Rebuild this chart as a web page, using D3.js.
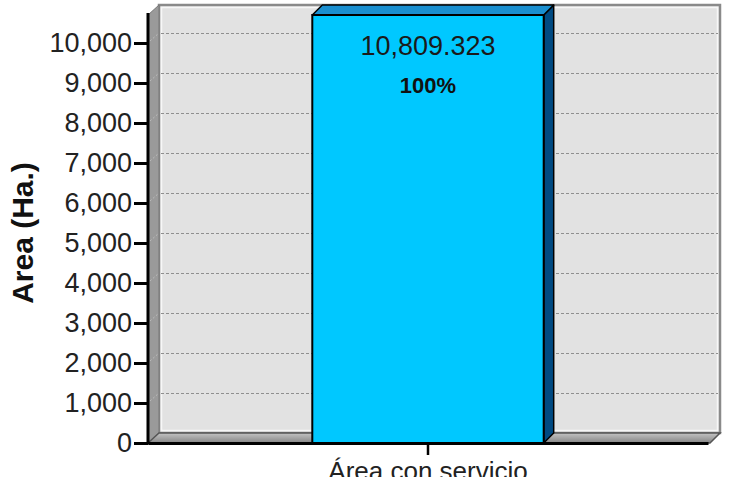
<!DOCTYPE html>
<html>
<head>
<meta charset="utf-8">
<script src="https://cdn.jsdelivr.net/npm/d3@7"></script>
<style>
html,body{margin:0;padding:0;background:#fff;}
svg{display:block;font-family:"Liberation Sans",Arial,sans-serif;}
</style>
</head>
<body>
<svg id="chart" width="742" height="477"></svg>
<script>
const categories = ["Área con servicio"];
const values = [10809.323];
const percentLabels = ["100%"];
const yTickValues = [0,1000,2000,3000,4000,5000,6000,7000,8000,9000,10000];
const yAxisTitle = "Area (Ha.)";

const svg = d3.select("#chart");
const DX = 11, DY = 10;
const x0 = 148, x1 = 708, yBase = 443, yTop = 15;

const y = d3.scaleLinear().domain([0, 10700]).range([yBase, yTop]).clamp(true);
const x = d3.scaleBand().domain(categories).range([x0, x1]).paddingInner(0).paddingOuter(0.71);

const defs = svg.append("defs");
const fg = defs.append("linearGradient").attr("id","floorGrad").attr("x1",0).attr("y1",0).attr("x2",0).attr("y2",1);
fg.append("stop").attr("offset","0%").attr("stop-color","#c4c4c4");
fg.append("stop").attr("offset","100%").attr("stop-color","#858585");

// back wall
const wx0 = x0 + DX, wx1 = x1 + DX + 1, wy0 = yTop - DY, wy1 = yBase - DY;
svg.append("rect").attr("x", wx0).attr("y", wy0).attr("width", wx1 - wx0).attr("height", wy1 - wy0)
  .attr("fill", "#e2e2e2").attr("stroke", "#8a8a8a").attr("stroke-width", 2.5);
svg.append("rect").attr("x", wx0 + 2.5).attr("y", wy0 + 2.5).attr("width", wx1 - wx0 - 5).attr("height", wy1 - wy0 - 5)
  .attr("fill", "none").attr("stroke", "#f7f7f7").attr("stroke-width", 1.5);

// side wall
svg.append("path")
  .attr("d", `M${x0},${yTop}L${wx0},${wy0}L${wx0},${wy1}L${x0},${yBase}Z`)
  .attr("fill", "#9a9a9a").attr("stroke", "#777").attr("stroke-width", 1);

// floor
svg.append("path")
  .attr("d", `M${x0},${yBase}L${wx0},${wy1}L${wx1},${wy1}L${x1+2},${yBase}Z`)
  .attr("fill", "url(#floorGrad)").attr("stroke", "#555").attr("stroke-width", 1.5);

// gridlines on back wall
svg.append("g").selectAll("line").data(yTickValues.filter(d => d > 0)).join("line")
  .attr("x1", wx0 + 2).attr("x2", wx1 - 2)
  .attr("y1", d => y(d) - DY + 0.5).attr("y2", d => y(d) - DY + 0.5)
  .attr("stroke", "#8f8f8f").attr("stroke-width", 1).attr("stroke-dasharray", "3,2");
// gridlines on side wall
svg.append("g").selectAll("line").data(yTickValues.filter(d => d > 0)).join("line")
  .attr("x1", x0 + 2).attr("x2", wx0)
  .attr("y1", d => y(d) - 2).attr("y2", d => y(d) - DY)
  .attr("stroke", "#bbb").attr("stroke-width", 1).attr("stroke-dasharray", "2,2");

// bars
const bars = svg.append("g").selectAll("g").data(values).join("g");
bars.each(function(v, i) {
  const g = d3.select(this);
  const bx0 = x(categories[i]), bx1 = bx0 + x.bandwidth();
  const by = y(v);
  // side
  g.append("path").attr("d", `M${bx1},${by}L${bx1+DX-1},${by-DY}L${bx1+DX-1},${yBase-DY}L${bx1},${yBase}Z`)
    .attr("fill", "#004a82").attr("stroke", "#000").attr("stroke-width", 1.5).attr("stroke-linejoin","round");
  // top
  g.append("path").attr("d", `M${bx0},${by}L${bx0+DX-1},${by-DY}L${bx1+DX-1},${by-DY}L${bx1},${by}Z`)
    .attr("fill", "#1a8fd0").attr("stroke", "#000").attr("stroke-width", 1.5).attr("stroke-linejoin","round");
  // front
  g.append("rect").attr("x", bx0).attr("y", by).attr("width", bx1 - bx0).attr("height", yBase - by)
    .attr("fill", "#00c8ff").attr("stroke", "#000").attr("stroke-width", 2);
  const cx = (bx0 + bx1) / 2;
  g.append("text").attr("x", cx).attr("y", by + 40).attr("text-anchor", "middle")
    .attr("font-size", 27).attr("fill", "#1a1a1a").text(d3.format(",.3f")(v));
  g.append("text").attr("x", cx).attr("y", by + 78).attr("text-anchor", "middle")
    .attr("font-size", 22).attr("font-weight", "bold").attr("fill", "#111").text(percentLabels[i]);
});

// y axis
const yAxis = svg.append("g").attr("transform", `translate(${x0},0)`)
  .call(d3.axisLeft(y).tickValues(yTickValues).tickFormat(d3.format(",")).tickSize(14).tickSizeOuter(0).tickPadding(2));
yAxis.select(".domain").attr("stroke", "#000").attr("stroke-width", 3).attr("d", `M0,${yBase+1.5}V${yTop-2}`);
yAxis.selectAll(".tick line").attr("stroke", "#000").attr("stroke-width", 3);
yAxis.selectAll(".tick text").attr("font-size", 27).attr("fill", "#222").attr("font-family", "Liberation Sans, Arial, sans-serif");

// x axis
const xAxis = svg.append("g").attr("transform", `translate(0,${yBase})`)
  .call(d3.axisBottom(x).tickSize(12).tickSizeOuter(0).tickPadding(7));
xAxis.select(".domain").attr("stroke", "#000").attr("stroke-width", 3);
xAxis.selectAll(".tick line").attr("stroke", "#000").attr("stroke-width", 2.5);
xAxis.selectAll(".tick text").attr("font-size", 26).attr("fill", "#222").attr("font-family", "Liberation Sans, Arial, sans-serif");

// y title
svg.append("text").attr("transform", "translate(33,233) rotate(-90)").attr("text-anchor", "middle")
  .attr("font-size", 30).attr("font-weight", "bold").attr("fill", "#111").text(yAxisTitle);
</script>
</body>
</html>
